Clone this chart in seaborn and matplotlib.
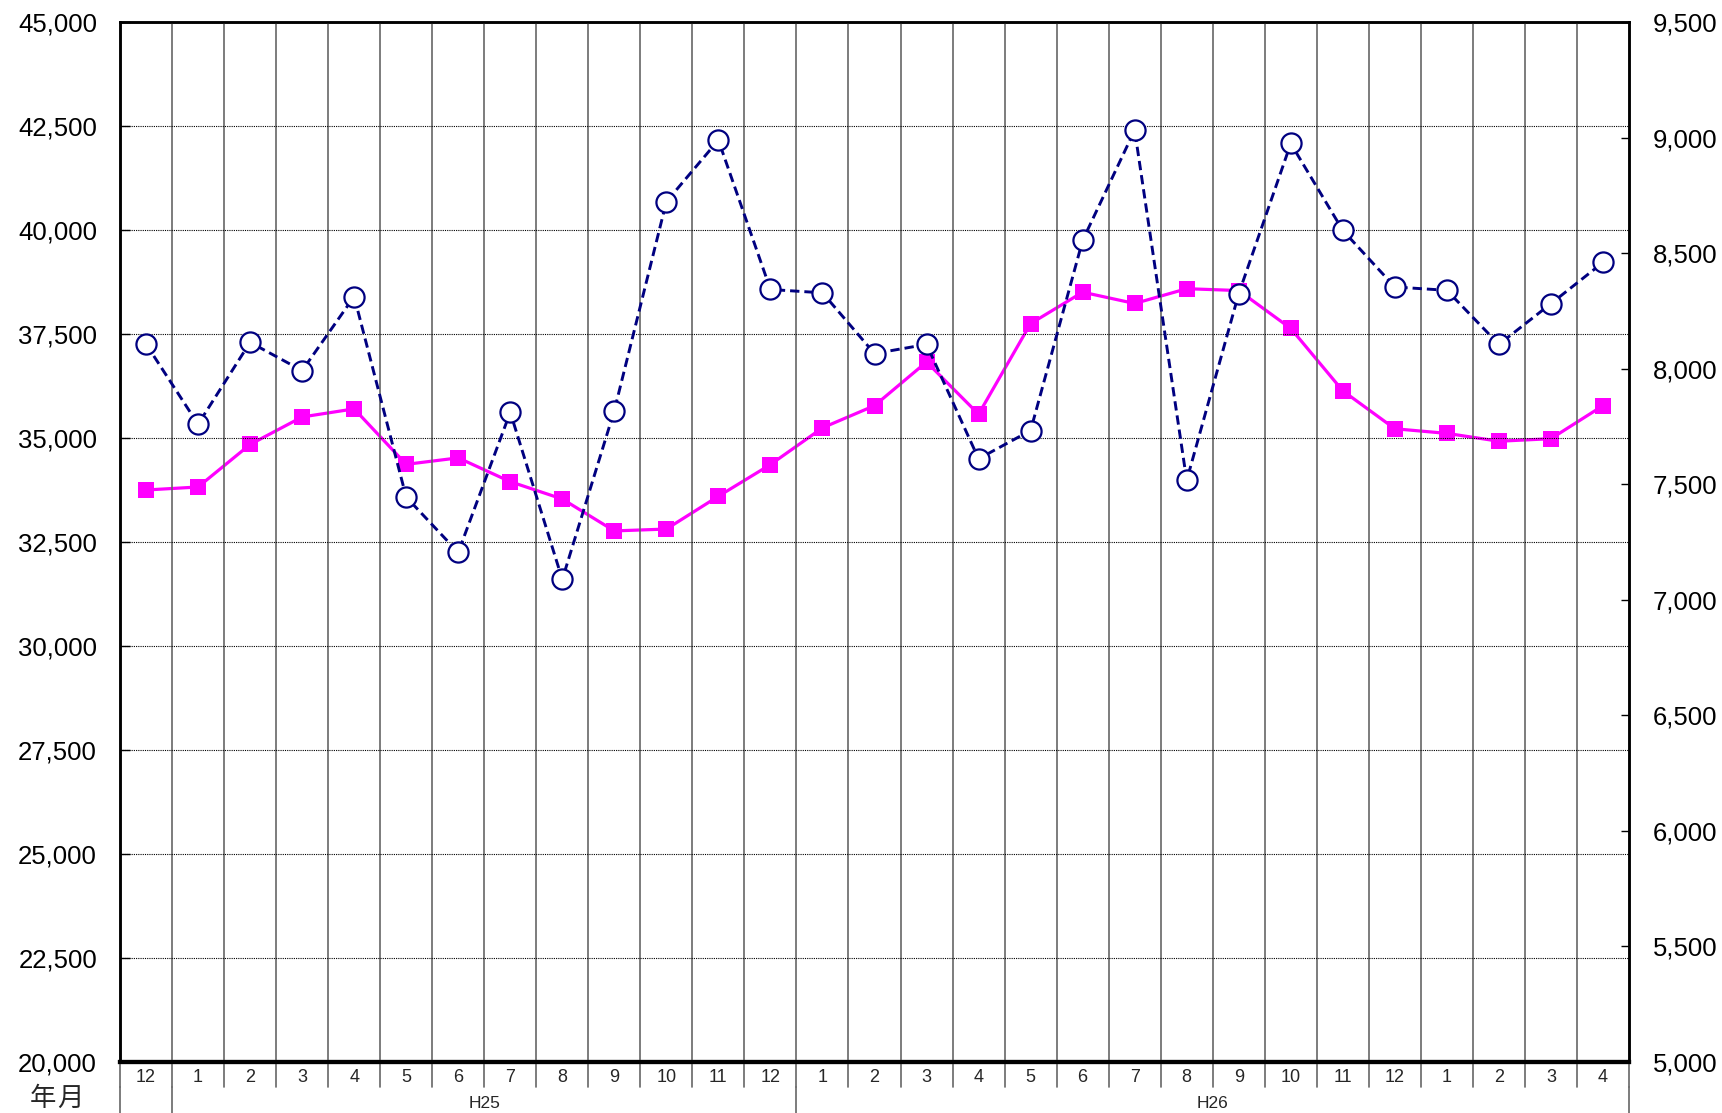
import matplotlib
matplotlib.use("Agg")
import matplotlib.pyplot as plt
import matplotlib.transforms as mtransforms
from matplotlib import font_manager
import numpy as np
import pandas as pd
import seaborn as sns

# Monthly labels: H24/12 through H27/4
months = ["12", "1", "2", "3", "4", "5", "6", "7", "8", "9", "10", "11", "12",
          "1", "2", "3", "4", "5", "6", "7", "8", "9", "10", "11", "12",
          "1", "2", "3", "4"]
# Era groups: (label, first index, last index)
group_labels = ["H25", "H26"]
group_starts = [1, 13]
group_ends = [12, 28]

# Series on the left axis (dashed navy, open circles)
series_left = [37260, 35330, 37300, 36620, 38400, 33580, 32250, 35620, 31600,
               35660, 40680, 42160, 38570, 38490, 37030, 37250, 34500, 35180,
               39750, 42400, 33980, 38470, 42080, 39990, 38630, 38550, 37250,
               38230, 39220]
# Series on the right axis (solid magenta, filled squares)
series_right = [7475, 7488, 7672, 7791, 7826, 7586, 7614, 7511, 7436, 7298,
                7306, 7448, 7585, 7744, 7840, 8029, 7803, 8195, 8331, 8282,
                8346, 8338, 8174, 7904, 7740, 7720, 7686, 7697, 7840]

left_ticks = [20000, 22500, 25000, 27500, 30000, 32500, 35000, 37500, 40000,
              42500, 45000]
right_ticks = [5000, 5500, 6000, 6500, 7000, 7500, 8000, 8500, 9000, 9500]

sns.set_theme(style="white")
plt.rcParams["font.family"] = ["Liberation Sans", "DejaVu Sans"]

installed = {f.name for f in font_manager.fontManager.ttflist}
narrow = "Liberation Sans Narrow" if "Liberation Sans Narrow" in installed else "Liberation Sans"

NAVY = "#000080"
MAGENTA = "#FF00FF"

df = pd.DataFrame({"idx": np.arange(len(months)),
                   "left": series_left,
                   "right": series_right})

W, H = 1722, 1113
fig = plt.figure(figsize=(W / 100, H / 100), dpi=100)
x0, x1, y0, y1 = 120, 1629, 22, 1062
ax = fig.add_axes([x0 / W, 1 - y1 / H, (x1 - x0) / W, (y1 - y0) / H])
ax2 = ax.twinx()

# Magenta series on the right axis (drawn underneath)
sns.lineplot(data=df, x="idx", y="right", ax=ax2, color=MAGENTA, lw=2.3,
             marker="s", markersize=11, markerfacecolor=MAGENTA,
             markeredgecolor=MAGENTA, markeredgewidth=0)

# Navy series on the left axis (drawn on top)
sns.lineplot(data=df, x="idx", y="left", ax=ax, color=NAVY, lw=2.1,
             linestyle=(0, (3.2, 1.7)), marker="o", markersize=14.5,
             markerfacecolor="white", markeredgecolor=NAVY,
             markeredgewidth=1.6)
ax.set_zorder(ax2.get_zorder() + 1)
ax.patch.set_visible(False)

n = len(months)
ax.set_xlim(-0.5, n - 0.5)
ax.set_ylim(20000, 45000)
ax2.set_ylim(5000, 9500)

ax.set_yticks(left_ticks)
ax.set_yticklabels([f"{v:,}" for v in left_ticks])
ax2.set_yticks(right_ticks)
ax2.set_yticklabels([f"{v:,}" for v in right_ticks])
ax.set_xlabel("")
ax.set_ylabel("")
ax2.set_ylabel("")

ax.tick_params(axis="y", direction="in", length=7, width=1, pad=16.5,
               labelsize=18.5, colors="black")
ax2.tick_params(axis="y", direction="in", length=6, width=1, pad=17,
                labelsize=18.5, colors="black")
for lab in ax.get_yticklabels() + ax2.get_yticklabels():
    lab.set_fontfamily("Liberation Sans")

# Horizontal dotted grid lines
ax.yaxis.grid(True, color="black", linestyle=(0, (1, 1)), lw=0.8)
ax.xaxis.grid(False)
ax2.grid(False)

# Vertical separators between months
for k in range(1, n):
    ax.axvline(k - 0.5, color="#666666", lw=1.2, zorder=0)

# Month labels and separators in the category band below the plot
ax.set_xticks(range(n))
ax.set_xticklabels(months)
ax.tick_params(axis="x", length=0, pad=5, labelsize=13)
for lab in ax.get_xticklabels():
    lab.set_fontfamily(narrow)

trans = mtransforms.blended_transform_factory(ax.transData, ax.transAxes)
band1 = 25 / (y1 - y0)
band2 = 52 / (y1 - y0)
for k in range(n + 1):
    ax.plot([k - 0.5, k - 0.5], [0, -band1], transform=trans, clip_on=False,
            color="#666666", lw=1.2)
for k in [0, 1, 13, n]:
    ax.plot([k - 0.5, k - 0.5], [-band1, -band2], transform=trans,
            clip_on=False, color="#666666", lw=1.2)
for lab, s, e in zip(group_labels, group_starts, group_ends):
    ax.text((s + e) / 2, -41 / (y1 - y0), lab, transform=trans,
            ha="center", va="center", fontsize=12.5, family=narrow)

# Corner caption of the category axis
cjk = ["Noto Sans CJK JP", "DejaVu Sans"]
fig.text(42.5 / W, 1 - 1099 / H, "年", ha="center", va="center",
         fontsize=19, family=cjk)
fig.text(70 / W, 1 - 1099 / H, "月", ha="center", va="center",
         fontsize=19, family=cjk)

# Spines
for a in (ax, ax2):
    for side in ("left", "right", "top"):
        a.spines[side].set_color("black")
        a.spines[side].set_linewidth(1.8)
    a.spines["bottom"].set_color("black")
    a.spines["bottom"].set_linewidth(3)

fig.savefig("out.png", dpi=100, facecolor="white")
